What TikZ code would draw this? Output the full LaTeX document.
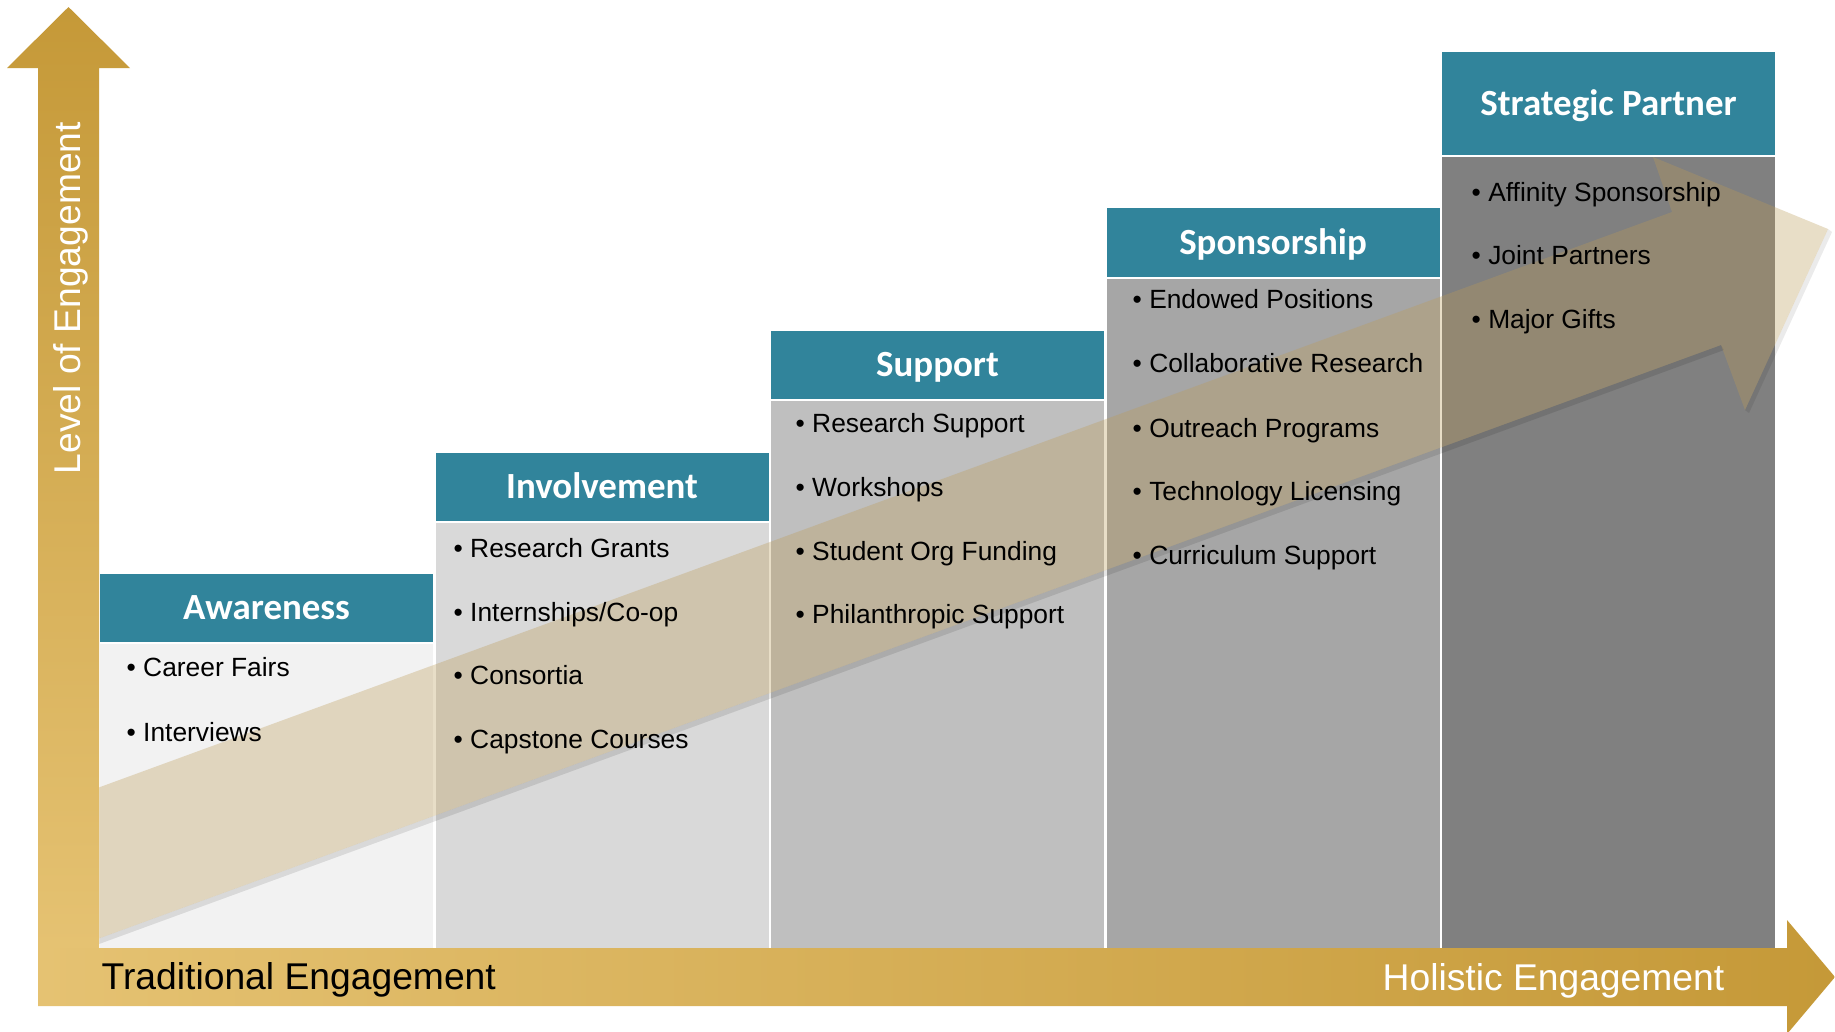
\documentclass[tikz,border=0pt]{standalone}
\usepackage{fontspec}
\setmainfont{Liberation Sans}
\newfontfamily\headfont{Carlito}

\definecolor{headteal}{RGB}{49,132,155}
\definecolor{golddark}{RGB}{197,153,56}
\definecolor{goldlight}{RGB}{229,194,114}
\definecolor{beige}{RGB}{188,155,86}
\definecolor{stepA}{RGB}{242,242,242}
\definecolor{stepB}{RGB}{217,217,217}
\definecolor{stepC}{RGB}{191,191,191}
\definecolor{stepD}{RGB}{166,166,166}
\definecolor{stepE}{RGB}{128,128,128}

\begin{document}
\begin{tikzpicture}[x=0.1mm, y=-0.1mm,
    head/.style={fill=headteal, text=white, inner sep=0pt, minimum width=33.3mm,
        font=\headfont\bfseries\fontsize{10.5}{12}\selectfont, text height=6.8pt, text depth=0pt},
    item/.style={anchor=west, inner sep=0pt, font=\fontsize{7.5}{9}\selectfont,
        text height=5.4pt, text depth=0pt},
    axislabel/.style={inner sep=0pt, font=\fontsize{10.6}{12}\selectfont,
        text height=7.6pt, text depth=0pt}]
    \useasboundingbox [fill=white] (0, 0) rectangle (1835, 1031);

    % the five steps
    \fill [stepA] (100, 644) rectangle (433, 948);
    \fill [stepB] (435.5, 523) rectangle (768.5, 948);
    \fill [stepC] (771, 401) rectangle (1104, 948);
    \fill [stepD] (1106.5, 279) rectangle (1439.5, 948);
    \fill [stepE] (1442, 157) rectangle (1775, 948);

    \node [head, minimum height=6.8mm] (aware) at (266.5, 608) {Awareness};
    \node [head, minimum height=6.8mm] (involve) at (602, 487) {Involvement};
    \node [head, minimum height=6.8mm] (support) at (937.5, 365) {Support};
    \node [head, minimum height=6.9mm] (sponsor) at (1273, 242.5) {Sponsorship};
    \node [head, minimum height=10.3mm] (partner) at (1608.5, 103.5) {Strategic Partner};

    % rising arrow across the steps
    \fill [black, opacity=0.1] (99, 938.4) -- (1721, 345) -- (1724, 350) -- (99, 944) -- cycle;
    \fill [black, opacity=0.08] (1745, 410) -- (1828, 229) -- (1832, 232) -- (1749, 413) -- cycle;
    \fill [beige, opacity=0.33] (99, 787.4) -- (1672, 212) -- (1653, 157) -- (1828, 229)
        -- (1745, 410) -- (1721, 345) -- (99, 938.4) -- cycle;

    \node [item] (aware-1) at (126, 667) {• Career Fairs};
    \node [item] (aware-2) at (126, 732) {• Interviews};

    \node [item] (involve-1) at (453, 548) {• Research Grants};
    \node [item] (involve-2) at (453, 612) {• Internships/Co-op};
    \node [item] (involve-3) at (453, 675) {• Consortia};
    \node [item] (involve-4) at (453, 739) {• Capstone Courses};

    \node [item] (support-1) at (795, 422.5) {• Research Support};
    \node [item] (support-2) at (795, 487) {• Workshops};
    \node [item] (support-3) at (795, 551) {• Student Org Funding};
    \node [item] (support-4) at (795, 614) {• Philanthropic Support};

    \node [item] (sponsor-1) at (1132, 299) {• Endowed Positions};
    \node [item] (sponsor-2) at (1132, 363) {• Collaborative Research};
    \node [item] (sponsor-3) at (1132, 428) {• Outreach Programs};
    \node [item] (sponsor-4) at (1132, 491) {• Technology Licensing};
    \node [item] (sponsor-5) at (1132, 555) {• Curriculum Support};

    \node [item] (partner-1) at (1471, 192) {• Affinity Sponsorship};
    \node [item] (partner-2) at (1471, 255) {• Joint Partners};
    \node [item] (partner-3) at (1471, 319) {• Major Gifts};

    % axes
    \shade [top color=golddark, bottom color=goldlight] (38, 948) -- (38, 68) -- (7, 68)
        -- (68.5, 7) -- (130, 68) -- (99, 68) -- (99, 948) -- cycle;
    \shade [left color=goldlight, right color=golddark] (38, 948) -- (1787, 948) -- (1787, 920)
        -- (1835, 977) -- (1787, 1034) -- (1787, 1006) -- (38, 1006) -- cycle;

    \node [axislabel, rotate=90, text=white] (level) at (67.5, 298) {Level of Engagement};
    \node [axislabel, anchor=west] (traditional) at (101, 976) {Traditional Engagement};
    \node [axislabel, anchor=east, text=white] (holistic) at (1725, 977) {Holistic Engagement};
\end{tikzpicture}
\end{document}
